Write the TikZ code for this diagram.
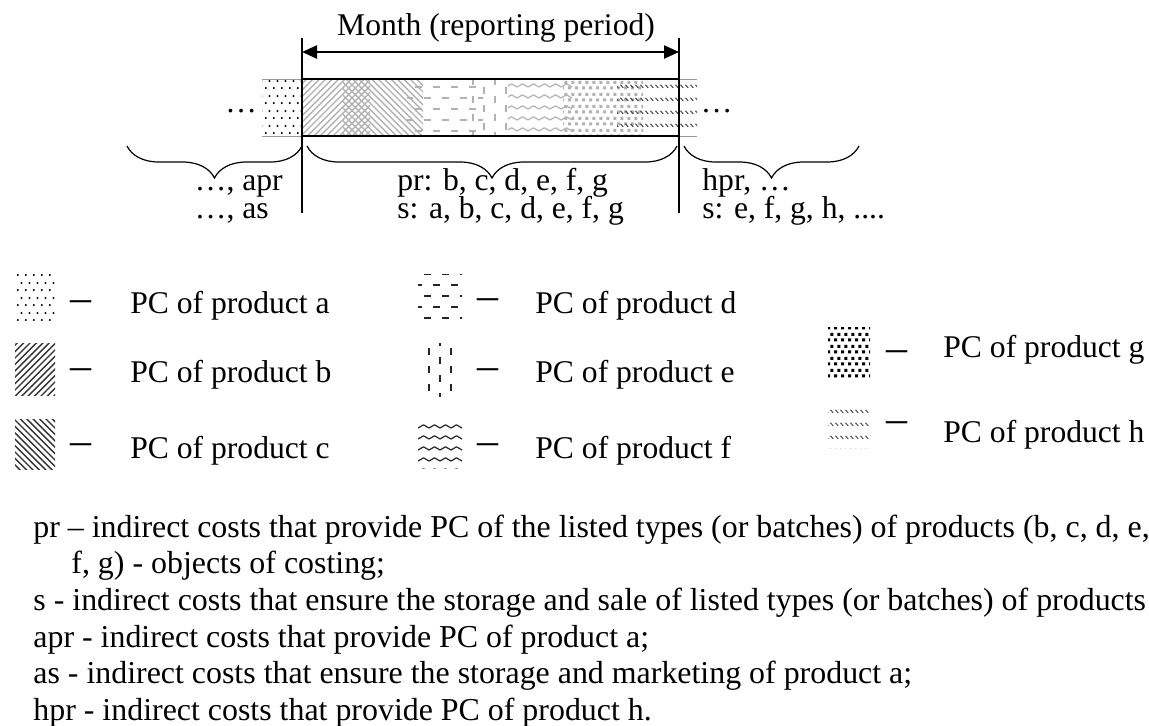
\documentclass[tikz,border=0pt]{standalone}
\usepackage{fontspec}
\setmainfont{Liberation Serif}
\usetikzlibrary{patterns,arrows.meta,decorations.pathreplacing}

% fill patterns of the products
\pgfdeclarepatternformonly{pcdots}{\pgfqpoint{0pt}{0pt}}{\pgfqpoint{4pt}{7.2pt}}{\pgfqpoint{4pt}{7.2pt}}{%
  \pgfpathcircle{\pgfqpoint{1pt}{1pt}}{0.6pt}%
  \pgfpathcircle{\pgfqpoint{3pt}{4.6pt}}{0.6pt}%
  \pgfusepath{fill}}
\pgfdeclarepatternformonly{pcne}{\pgfqpoint{-1pt}{-1pt}}{\pgfqpoint{4.2pt}{4.2pt}}{\pgfqpoint{3.2pt}{3.2pt}}{%
  \pgfsetlinewidth{0.7pt}%
  \pgfpathmoveto{\pgfqpoint{0pt}{0pt}}\pgfpathlineto{\pgfqpoint{3.3pt}{3.3pt}}%
  \pgfusepath{stroke}}
\pgfdeclarepatternformonly{pcnw}{\pgfqpoint{-1pt}{-1pt}}{\pgfqpoint{4.2pt}{4.2pt}}{\pgfqpoint{3.2pt}{3.2pt}}{%
  \pgfsetlinewidth{0.7pt}%
  \pgfpathmoveto{\pgfqpoint{0pt}{3.2pt}}\pgfpathlineto{\pgfqpoint{3.3pt}{-0.1pt}}%
  \pgfusepath{stroke}}
\pgfdeclarepatternformonly{pcdash}{\pgfqpoint{0pt}{-0.5pt}}{\pgfqpoint{9pt}{10.5pt}}{\pgfqpoint{9pt}{11pt}}{%
  \pgfsetlinewidth{0.9pt}%
  \pgfpathmoveto{\pgfqpoint{0.5pt}{0pt}}\pgfpathlineto{\pgfqpoint{4pt}{0pt}}%
  \pgfpathmoveto{\pgfqpoint{5pt}{5.5pt}}\pgfpathlineto{\pgfqpoint{8.5pt}{5.5pt}}%
  \pgfusepath{stroke}}
\pgfdeclarepatternformonly{pcvdash}{\pgfqpoint{-0.5pt}{0pt}}{\pgfqpoint{10.5pt}{9pt}}{\pgfqpoint{11pt}{9pt}}{%
  \pgfsetlinewidth{0.7pt}%
  \pgfpathmoveto{\pgfqpoint{0pt}{0.5pt}}\pgfpathlineto{\pgfqpoint{0pt}{4pt}}%
  \pgfpathmoveto{\pgfqpoint{5.5pt}{5pt}}\pgfpathlineto{\pgfqpoint{5.5pt}{8.5pt}}%
  \pgfusepath{stroke}}
\pgfdeclarepatternformonly{pcwave}{\pgfqpoint{-0.5pt}{-0.5pt}}{\pgfqpoint{6pt}{2.5pt}}{\pgfqpoint{5.5pt}{5.5pt}}{%
  \pgfsetlinewidth{0.6pt}\pgfsetroundjoin%
  \pgfpathmoveto{\pgfqpoint{0pt}{0pt}}\pgfpathlineto{\pgfqpoint{2.75pt}{1.6pt}}%
  \pgfpathlineto{\pgfqpoint{5.5pt}{0pt}}%
  \pgfusepath{stroke}}
\pgfdeclarepatternformonly{pcsq}{\pgfqpoint{0pt}{0pt}}{\pgfqpoint{3.6pt}{6pt}}{\pgfqpoint{3.6pt}{6pt}}{%
  \pgfpathrectangle{\pgfqpoint{0.1pt}{0.3pt}}{\pgfqpoint{1.6pt}{1.6pt}}%
  \pgfpathrectangle{\pgfqpoint{1.9pt}{3.3pt}}{\pgfqpoint{1.6pt}{1.6pt}}%
  \pgfusepath{fill}}
\pgfdeclarepatternformonly{pchatch}{\pgfqpoint{0pt}{0pt}}{\pgfqpoint{2.5pt}{6.5pt}}{\pgfqpoint{2.5pt}{6.5pt}}{%
  \pgfsetlinewidth{0.55pt}%
  \pgfpathmoveto{\pgfqpoint{0.3pt}{2.2pt}}\pgfpathlineto{\pgfqpoint{1.9pt}{0.6pt}}%
  \pgfusepath{stroke}}

\begin{document}
\begin{tikzpicture}[x=0.5pt, y=-0.5pt,
    txt/.style={anchor=base west, inner sep=0pt, font=\fontsize{15.8pt}{18pt}\selectfont},
    pair/.style={anchor=base west, inner sep=0pt, align=left,
      font={\fontsize{15.8pt}{14pt}\selectfont\lineskiplimit=-20pt}},
    note/.style={anchor=base west, inner sep=0pt, font=\fontsize{15.95pt}{18pt}\selectfont},
    dsh/.style={anchor=base, inner sep=0pt, font=\fontsize{21pt}{24pt}\selectfont},
    swatch/.style={inner sep=0pt, outer sep=0pt},
    brc/.style={decorate, decoration={brace, mirror, amplitude=16pt}, line width=0.6pt}]
  \useasboundingbox (0,0) rectangle (1149,725);

  % the month bar
  \fill[pattern=pcdots, pattern color=black] (262,79) rectangle (302,136);
  \fill[pattern=pcne, pattern color=black!30] (302,79) rectangle (370,136);
  \fill[pattern=pcnw, pattern color=black!30] (343,79) rectangle (423,136);
  \fill[pattern=pcdash, pattern color=black!30] (407,79) rectangle (483,136);
  \fill[pattern=pcvdash, pattern color=black!30] (463,79) rectangle (513,136);
  \fill[pattern=pcwave, pattern color=black!30] (508,79) rectangle (572,136);
  \fill[pattern=pcsq, pattern color=black!30] (563,79) rectangle (643,136);
  \fill[pattern=pchatch, pattern color=black!75] (617,79) rectangle (697,136);
  \draw[black!40, line width=0.4pt] (262,79) -- (302,79) (262,136) -- (302,136)
    (679,79) -- (697,79) (679,136) -- (697,136);
  \draw[line width=1pt] (302,79) -- (679,79) (302,136) -- (679,136);

  \coordinate (lt) at (302,38);
  \coordinate (lb) at (302,213);
  \coordinate (rt) at (679,38);
  \coordinate (rb) at (679,213);
  \coordinate (al) at (302,52);
  \coordinate (ar) at (679,52);
  \draw[line width=0.7pt] (lt) -- (lb);
  \draw[line width=0.7pt] (rt) -- (rb);
  \draw[{Triangle[length=7.5pt,width=6.5pt]}-{Triangle[length=7.5pt,width=6.5pt]}, line width=1.2pt] (al) -- (ar);
  \node[txt, anchor=base] (month) at (496,35) {Month (reporting period)};

  \node[txt] (ldots) at (225,112) {…};
  \node[txt] (rdots) at (700.5,112) {…};

  % braces and what they cover
  \coordinate (b0) at (127,146);
  \coordinate (b1) at (302,146);
  \coordinate (b2) at (307,146);
  \coordinate (b3) at (677,146);
  \coordinate (b4) at (684,146);
  \coordinate (b5) at (859,146);
  \draw[brc] (b0) -- (b1);
  \draw[brc] (b2) -- (b3);
  \draw[brc] (b4) -- (b5);
  \node[pair] (apr) at (194.5,218) {…, apr\\…, as};
  \node[pair] (pr) at (397,218) {pr: b, c, d, e, f, g\\s: a, b, c, d, e, f, g};
  \node[pair] (hpr) at (702,218) {hpr, …\\s: e, f, g, h, ....};

  % legend
  \node[swatch, pattern=pcdots, pattern color=black, minimum width=20pt, minimum height=25.5pt] (sa) at (35,299.5) {};
  \node[swatch, pattern=pcne, pattern color=black!80, minimum width=20pt, minimum height=26pt] (sb) at (35,369) {};
  \node[swatch, pattern=pcnw, pattern color=black!80, minimum width=20pt, minimum height=25pt] (sc) at (35,444) {};
  \node[swatch, pattern=pcdash, pattern color=black!85, minimum width=22pt, minimum height=24pt] (sd) at (440,298) {};
  \node[swatch, pattern=pcvdash, pattern color=black!85, minimum width=17.5pt, minimum height=26.5pt] (se) at (442.5,369.5) {};
  \node[swatch, pattern=pcwave, pattern color=black!85, minimum width=22pt, minimum height=24pt] (sf) at (440,444) {};
  \node[swatch, pattern=pcsq, pattern color=black, minimum width=21pt, minimum height=25pt] (sg) at (849,352) {};
  \node[swatch, pattern=pchatch, pattern color=black!70, minimum width=21pt, minimum height=20.5pt] (sh) at (849,427.5) {};

  \node[dsh] (da) at (81,311.5) {–};
  \node[dsh] (db) at (81,379.5) {–};
  \node[dsh] (dc) at (81,454.5) {–};
  \node[dsh] (dd) at (487.5,309.5) {–};
  \node[dsh] (de) at (487.5,379.5) {–};
  \node[dsh] (df) at (487.5,454.5) {–};
  \node[dsh] (dg) at (897,361.5) {–};
  \node[dsh] (dh) at (897,432.5) {–};

  \node[txt] (la) at (130,313) {PC of product a};
  \node[txt] (lb') at (130,382) {PC of product b};
  \node[txt] (lc) at (130,458) {PC of product c};
  \node[txt] (ld) at (535,313) {PC of product d};
  \node[txt] (le) at (535,382) {PC of product e};
  \node[txt] (lf) at (535,458) {PC of product f};
  \node[txt] (lg) at (943,357) {PC of product g};
  \node[txt] (lh) at (943,442) {PC of product h};

  % notes
  \node[note] (n1) at (33,537) {pr – indirect costs that provide PC of the listed types (or batches) of products (b, c, d, e,};
  \node[note] (n2) at (71,573) {f, g) - objects of costing;};
  \node[note] (n3) at (33,610) {s - indirect costs that ensure the storage and sale of listed types (or batches) of products};
  \node[note] (n4) at (33,647) {apr - indirect costs that provide PC of product a;};
  \node[note] (n5) at (33,683) {as - indirect costs that ensure the storage and marketing of product a;};
  \node[note] (n6) at (33,720) {hpr - indirect costs that provide PC of product h.};
\end{tikzpicture}
\end{document}
